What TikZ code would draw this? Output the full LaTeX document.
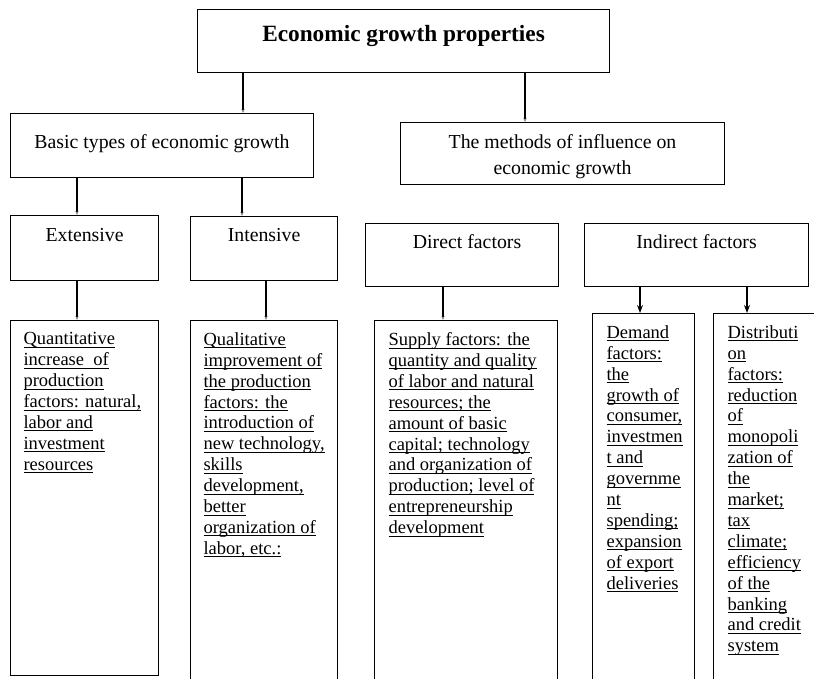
\documentclass[tikz,border=0pt]{standalone}
\usepackage{fontspec}
\setmainfont{Liberation Serif}
\usetikzlibrary{positioning}
\usetikzlibrary{arrows.meta}
\newsavebox{\ulnbox}
\newcommand{\uln}[1]{\leavevmode\sbox{\ulnbox}{#1}\rlap{\rule[-2.8pt]{\wd\ulnbox}{0.8pt}}\usebox{\ulnbox}}

\begin{document}
\begin{tikzpicture}[x=1pt, y=-1pt, line width=1.1pt,
        frame/.style={draw, rectangle, anchor=north west, inner sep=0pt},
        head/.style={inner sep=0pt, align=center, font=\fontsize{19.8}{26}\selectfont},
        body/.style={inner sep=0pt, align=left, font=\fontsize{18.5}{20.9}\selectfont},
        arr/.style={-{Stealth[length=4pt, width=3.5pt, color=black!45]}},
        bigarr/.style={-{Stealth[length=8pt, width=6pt]}}]
        \useasboundingbox (0,0) rectangle (814,679);
        \clip (0,0) rectangle (814,679);
        \node[frame, minimum width=412pt, minimum height=63pt] (top) at (197,9) {};
        \node[below=16pt of top.north, inner sep=0pt, font=\fontsize{23.3}{28}\selectfont\bfseries] (top-t) {Economic growth properties};
        \node[frame, minimum width=303pt, minimum height=64pt] (basic) at (10,113) {};
        \node[head, below=21pt of basic.north] (basic-t) {Basic types of economic growth};
        \node[frame, minimum width=324pt, minimum height=62pt] (methods) at (400,122) {};
        \node[head, below=12pt of methods.north] (methods-t) {The methods of influence on\\economic growth};
        \node[frame, minimum width=148pt, minimum height=65pt] (ext) at (10,215) {};
        \node[head, below=13pt of ext.north] (ext-t) {Extensive};
        \node[frame, minimum width=147pt, minimum height=64pt] (int) at (190,216) {};
        \node[head, below=12pt of int.north] (int-t) {Intensive};
        \node[frame, minimum width=193pt, minimum height=63pt] (direct) at (365,223) {};
        \node[head, below=11pt of direct.north, xshift=5pt] (direct-t) {Direct factors};
        \node[frame, minimum width=224pt, minimum height=63pt] (indirect) at (584,223) {};
        \node[head, below=11pt of indirect.north] (indirect-t) {Indirect factors};
        \node[frame, minimum width=148pt, minimum height=355pt] (quant) at (10,320) {};
        \node[body, below right=12pt and 13pt of quant.north west] (quant-t) {\uln{Quantitative}\\\uln{increase\ \ of}\\\uln{production}\\\uln{factors: natural,}\\\uln{labor and}\\\uln{investment}\\\uln{resources}};
        \node[frame, minimum width=147pt, minimum height=380pt] (qual) at (190,320) {};
        \node[body, below right=12pt and 13pt of qual.north west] (qual-t) {\uln{Qualitative}\\\uln{improvement of}\\\uln{the production}\\\uln{factors: the}\\\uln{introduction of}\\\uln{new technology,}\\\uln{skills}\\\uln{development,}\\\uln{better}\\\uln{organization of}\\\uln{labor, etc.:}};
        \node[frame, minimum width=183pt, minimum height=380pt] (supply) at (374,320) {};
        \node[body, below right=12pt and 14pt of supply.north west] (supply-t) {\uln{Supply factors: the}\\\uln{quantity and quality}\\\uln{of labor and natural}\\\uln{resources; the}\\\uln{amount of basic}\\\uln{capital; technology}\\\uln{and organization of}\\\uln{production; level of}\\\uln{entrepreneurship}\\\uln{development}};
        \node[frame, minimum width=102pt, minimum height=380pt] (demand) at (592,313) {};
        \node[body, below right=12pt and 14pt of demand.north west] (demand-t) {\uln{Demand}\\\uln{factors:}\\\uln{the}\\\uln{growth of}\\\uln{consumer,}\\\uln{investmen}\\\uln{t and}\\\uln{governme}\\\uln{nt}\\\uln{spending;}\\\uln{expansion}\\\uln{of export}\\\uln{deliveries}};
        \node[frame, minimum width=130pt, minimum height=380pt] (distr) at (713,313) {};
        \node[body, below right=12pt and 14pt of distr.north west] (distr-t) {\uln{Distributi}\\\uln{on}\\\uln{factors:}\\\uln{reduction}\\\uln{of}\\\uln{monopoli}\\\uln{zation of}\\\uln{the}\\\uln{market;}\\\uln{tax}\\\uln{climate;}\\\uln{efficiency}\\\uln{of the}\\\uln{banking}\\\uln{and credit}\\\uln{system}};
        \coordinate (to-basic) at (243,0);
        \coordinate (to-methods) at (525,0);
        \coordinate (to-ext) at (77,0);
        \coordinate (to-int) at (242,0);
        \coordinate (to-qual) at (266,0);
        \coordinate (to-supply) at (443,0);
        \coordinate (to-demand) at (640,0);
        \coordinate (to-distr) at (747,0);
        \draw[arr] (top.south -| to-basic) -- (basic.north -| to-basic);
        \draw[arr] (top.south -| to-methods) -- (methods.north -| to-methods);
        \draw[arr] (basic.south -| to-ext) -- (ext.north -| to-ext);
        \draw[arr] (basic.south -| to-int) -- (int.north -| to-int);
        \draw[arr] (ext.south -| to-ext) -- (quant.north -| to-ext);
        \draw[arr] (int.south -| to-qual) -- (qual.north -| to-qual);
        \draw[arr] (direct.south -| to-supply) -- (supply.north -| to-supply);
        \draw[bigarr] (indirect.south -| to-demand) -- (demand.north -| to-demand);
        \draw[bigarr] (indirect.south -| to-distr) -- (distr.north -| to-distr);
    \end{tikzpicture}
\end{document}
